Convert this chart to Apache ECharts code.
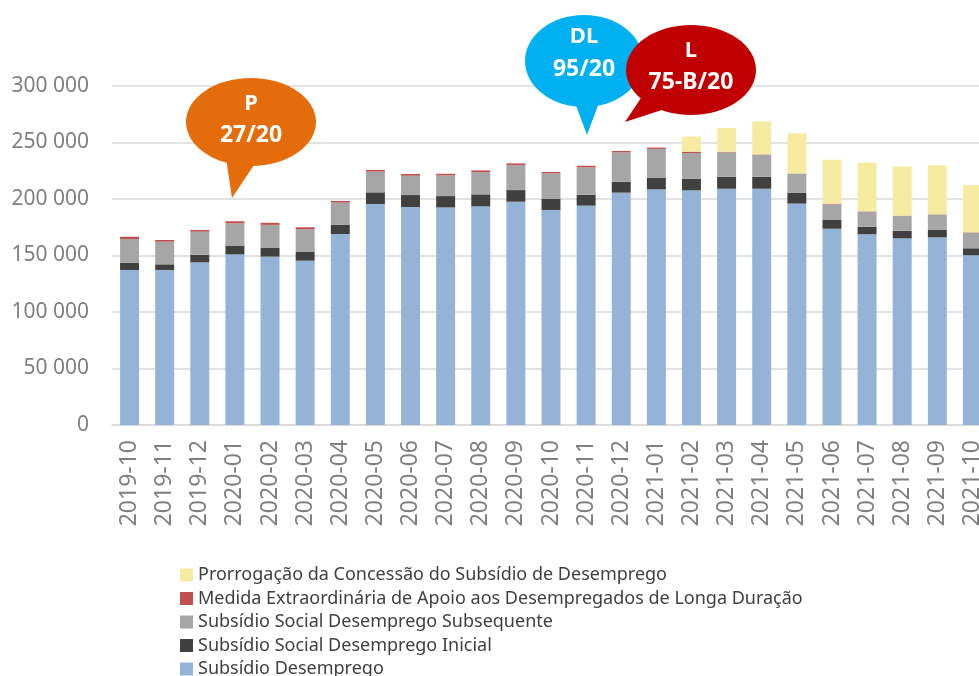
<!DOCTYPE html>
<html>
<head>
<meta charset="utf-8">
<script src="https://cdn.jsdelivr.net/npm/echarts@6/dist/echarts.min.js"></script>
<style>
  html, body { margin: 0; padding: 0; overflow: hidden; background: #fff; }
  #main { width: 1000px; height: 676px; }
</style>
</head>
<body>
<div id="main"></div>
<script>
// meses
const months = ['2019-10', '2019-11', '2019-12', '2020-01', '2020-02', '2020-03', '2020-04', '2020-05', '2020-06',
  '2020-07', '2020-08', '2020-09', '2020-10', '2020-11', '2020-12', '2021-01', '2021-02', '2021-03', '2021-04',
  '2021-05', '2021-06', '2021-07', '2021-08', '2021-09', '2021-10'];

// valores por prestação
const subsidioDesemprego = [137200, 137200, 144000, 151000, 149000, 145400, 169000, 195600, 192900, 192600, 193500,
  197600, 190300, 194100, 205600, 208600, 207700, 209100, 209100, 195900, 173700, 168800, 165200, 166100, 150200];
const ssdInicial = [6200, 5000, 6700, 7400, 8000, 7700, 8300, 10300, 10600, 10000, 10600, 10300, 9700, 9700, 9700,
  10300, 10300, 10600, 10600, 9500, 7700, 6700, 6700, 6500, 6200];
const ssdSubsequente = [21200, 20000, 20400, 20100, 20100, 20100, 19500, 18300, 17100, 18300, 19700, 22100, 22700,
  24200, 26000, 25400, 22700, 21600, 19500, 16800, 13900, 13300, 13000, 13500, 13800];
const medidaExtra = [2000, 1500, 1500, 1800, 1800, 1800, 1500, 1500, 1500, 1400, 1500, 1500, 1200, 1400, 1200, 1200,
  1200, 500, 300, 300, 300, 300, 300, 300, 300];
const prorrogacao = [0, 0, 0, 0, 0, 0, 0, 0, 0, 0, 0, 0, 0, 0, 0, 0, 13300, 21000, 29200, 35700, 39200, 43100, 43600,
  43400, 41900];

const yTicks = [0, 50000, 100000, 150000, 200000, 250000, 300000];

const names = {
  sd: 'Subsídio Desemprego',
  ini: 'Subsídio Social Desemprego Inicial',
  sub: 'Subsídio Social Desemprego Subsequente',
  med: 'Medida Extraordinária de Apoio aos Desempregados de Longa Duração',
  pro: 'Prorrogação da Concessão do Subsídio de Desemprego'
};

const font = '"Noto Sans", sans-serif';
const myChart = echarts.init(document.getElementById('main'));

function barSeries(name, data, color) {
  return {
    name: name,
    type: 'bar',
    stack: 'total',
    barWidth: '54%',
    data: data,
    itemStyle: { color: color },
    emphasis: { disabled: true }
  };
}

// balões (P, DL, L)
function bubble(cx, cy, rx, ry, tail, color, line1, line2, l1y, l2y, z) {
  return {
    type: 'group',
    z: z,
    children: [
      { type: 'polygon', z: z, shape: { points: tail }, style: { fill: color } },
      { type: 'ellipse', z: z, shape: { cx: cx, cy: cy, rx: rx, ry: ry }, style: { fill: color } },
      { type: 'text', z: z + 1, x: cx, y: l1y, style: { text: line1, fill: '#fff', font: 'bold 22px ' + font, textAlign: 'center', textVerticalAlign: 'middle' } },
      { type: 'text', z: z + 1, x: cx, y: l2y, style: { text: line2, fill: '#fff', font: 'bold 23px ' + font, textAlign: 'center', textVerticalAlign: 'middle' } }
    ]
  };
}

const option = {
  animation: false,
  textStyle: { fontFamily: font },
  grid: { left: 112, right: 10, top: 86, bottom: 251 },
  legend: {
    orient: 'vertical',
    left: 175,
    top: 560,
    height: 200,
    itemWidth: 13,
    itemHeight: 13,
    itemGap: 3.5,
    icon: 'rect',
    selectedMode: false,
    data: [names.pro, names.med, names.sub, names.ini, names.sd],
    textStyle: { color: '#404040', fontSize: 18, lineHeight: 20, fontFamily: font }
  },
  xAxis: {
    type: 'category',
    data: months,
    axisLine: { lineStyle: { color: '#d9d9d9', width: 1.5 } },
    axisTick: { show: false },
    axisLabel: { rotate: 90, margin: 15, color: '#7f7f7f', fontSize: 23, fontFamily: font, interval: 0 }
  },
  yAxis: {
    type: 'value',
    min: yTicks[0],
    max: yTicks[yTicks.length - 1],
    interval: 50000,
    axisLine: { show: false },
    axisTick: { show: false },
    splitLine: { lineStyle: { color: '#d9d9d9', width: 1.5 } },
    axisLabel: {
      margin: 23,
      color: '#7f7f7f',
      fontSize: 21,
      fontFamily: font,
      formatter: v => String(v).replace(/\B(?=(\d{3})+(?!\d))/g, ' ')
    }
  },
  series: [
    barSeries(names.sd, subsidioDesemprego, '#95b3d7'),
    barSeries(names.ini, ssdInicial, '#404040'),
    barSeries(names.sub, ssdSubsequente, '#a6a6a6'),
    barSeries(names.med, medidaExtra, '#c0504d'),
    barSeries(names.pro, prorrogacao, '#f5eca2')
  ],
  graphic: [
    bubble(251, 122, 65, 44, [[226, 158], [256, 162], [232, 198]], '#e46c0a', 'P', '27/20', 104, 135, 20),
    bubble(584, 61, 59, 46, [[574, 100], [600, 100], [587, 135]], '#00b0f0', 'DL', '95/20', 37, 69, 20),
    bubble(691, 70, 65, 45, [[645, 92], [668, 108], [625, 122]], '#c00000', 'L', '75-B/20', 51, 82, 30)
  ]
};

myChart.setOption(option);
</script>
</body>
</html>
